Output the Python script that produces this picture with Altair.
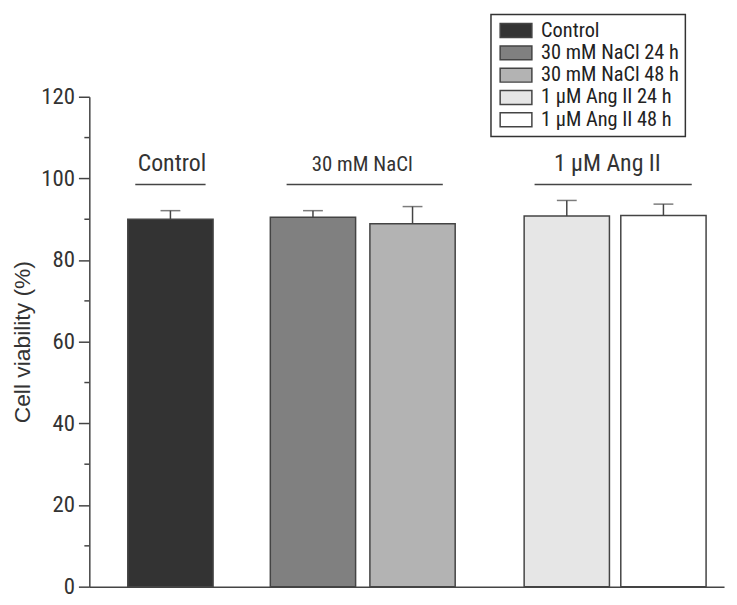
import altair as alt
import pandas as pd

# ---- data ----
conditions = ["Control", "30 mM NaCl 24 h", "30 mM NaCl 48 h", "1 µM Ang II 24 h", "1 µM Ang II 48 h"]
means = [90.0, 90.5, 88.9, 90.8, 90.9]
errors = [2.1, 1.6, 4.2, 3.8, 2.8]
slots = [7.8, 22.4, 32.6, 48.4, 58.3]          # bar centre positions on the x scale
colors = ["#333333", "#808080", "#b3b3b3", "#e6e6e6", "#ffffff"]

group_labels = ["Control", "30 mM NaCl", "1 µM Ang II"]
group_start = [4.2, 19.7, 45.1]
group_end = [11.4, 35.7, 61.2]
group_text_x = [7.95, 27.45, 52.55]
group_line_y = 98.5
group_text_y = 101.7

y_major = [0, 20, 40, 60, 80, 100, 120]
y_minor = [10, 30, 50, 70, 90, 110]

NARROW = "Liberation Sans Narrow, Arial Narrow, Roboto Condensed, sans-serif"
REG = "Liberation Sans, Arial, sans-serif"
INK = "#333333"
LINE = "#444444"

bars_df = pd.DataFrame({"cond": conditions, "mean": means, "err": errors, "slot": slots})
groups_df = pd.DataFrame({"label": group_labels, "x0": group_start, "x1": group_end,
                          "tx": group_text_x, "ly": group_line_y, "ty": group_text_y})
minor_df = pd.DataFrame({"v": y_minor})

xscale = alt.Scale(domain=[0, 64], nice=False, zero=False)
yscale = alt.Scale(domain=[0, 120], nice=False)

x_axis = alt.Axis(labels=False, ticks=False, title=None, grid=False, domain=True,
                  domainColor=LINE, domainWidth=1.5)
y_axis = alt.Axis(values=y_major, tickSize=11, tickWidth=1.5, tickColor=LINE,
                  domainColor=LINE, domainWidth=1.5, labelFont=NARROW, labelFontSize=23,
                  labelColor=INK, labelPadding=4, grid=False,
                  title="Cell viability (%)", titleFont=REG, titleFontSize=23,
                  titleFontWeight="normal", titleColor=INK, titlePadding=6)

base = alt.Chart(bars_df)

bars = base.mark_bar(size=86, stroke=LINE, strokeWidth=1.5).encode(
    x=alt.X("slot:Q", scale=xscale, axis=x_axis),
    y=alt.Y("mean:Q", scale=yscale, axis=y_axis),
    fill=alt.Fill("cond:N", scale=alt.Scale(domain=conditions, range=colors),
                  legend=alt.Legend(
                      title=None, orient="none", legendX=405, legendY=-83,
                      padding=6, rowPadding=1.5, strokeColor=INK,
                      labelFont=NARROW, labelFontSize=20.5, labelColor="#222222",
                      labelOffset=24, symbolSize=196,
                      symbolType="M -1 -1 H 3.57 V 1 H -1 Z",
                      symbolStrokeColor=LINE, symbolStrokeWidth=1.5, symbolOpacity=1)),
)

err_rule = base.transform_calculate(upper="datum.mean + datum.err").mark_rule(
    color=LINE, strokeWidth=1.5).encode(
    x="slot:Q", y="mean:Q", y2="upper:Q")

err_cap = base.transform_calculate(upper="datum.mean + datum.err").mark_tick(
    orient="horizontal", size=20, thickness=1.5, color=LINE).encode(
    x="slot:Q", y="upper:Q")

gbase = alt.Chart(groups_df)
g_lines = gbase.mark_rule(color=LINE, strokeWidth=1.5).encode(
    x="x0:Q", x2="x1:Q", y="ly:Q")
g_text_big = gbase.transform_filter("datum.label != '30 mM NaCl'").mark_text(
    font=NARROW, fontSize=24, color=INK, baseline="alphabetic", align="center").encode(
    x="tx:Q", y="ty:Q", text="label:N")
g_text_small = gbase.transform_filter("datum.label == '30 mM NaCl'").mark_text(
    font=NARROW, fontSize=21, color=INK, baseline="alphabetic", align="center").encode(
    x="tx:Q", y="ty:Q", text="label:N")

minor = alt.Chart(minor_df).mark_rule(color=LINE, strokeWidth=1.5, clip=False).encode(
    y="v:Q", x=alt.value(-5), x2=alt.value(0))

chart = alt.layer(bars, err_rule, err_cap, g_lines, g_text_big, g_text_small, minor).properties(
    width=640, height=494,
    padding={"left": 3, "top": 3, "right": 5, "bottom": 5},
).configure_view(stroke=None).configure_legend(strokeWidth=1.5)

chart.save("out.html", embed_options={"renderer": "svg", "actions": False})
